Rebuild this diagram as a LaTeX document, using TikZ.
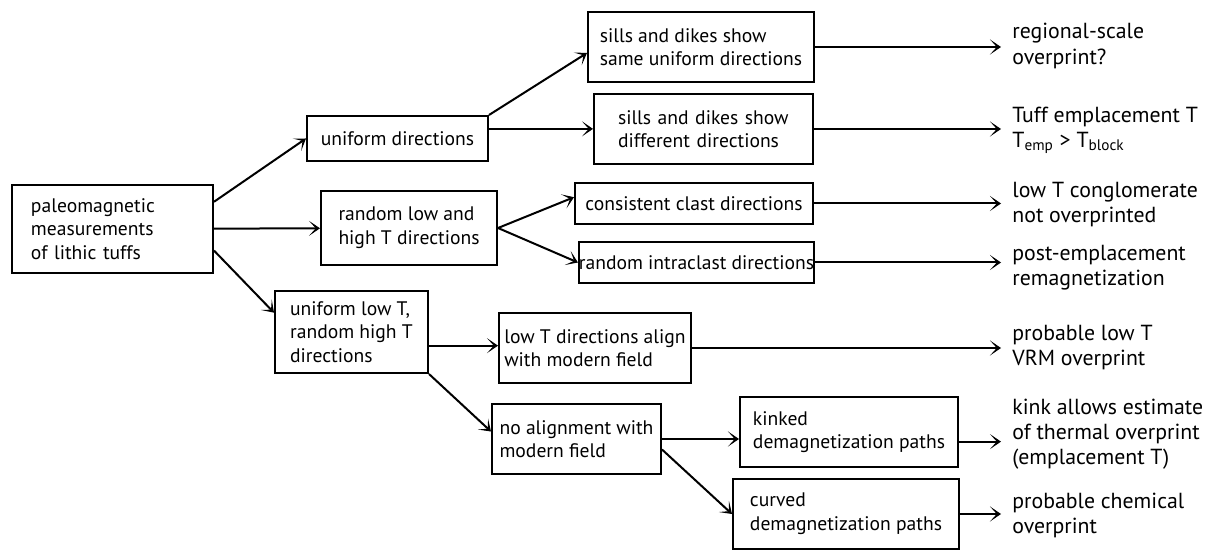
\documentclass[tikz,border=0pt]{standalone}
\usepackage{fontspec}
\setmainfont{PT Sans}
\usepackage{tikz}
\usetikzlibrary{arrows.meta}

\begin{document}
\begin{tikzpicture}[
  x=0.5pt, y=-0.5pt,
  blk/.style 2 args = {draw, line width=1pt, inner sep=0pt,
                       minimum width=#1, minimum height=#2,
                       align=left, font=\fontsize{9.8}{11.8}\selectfont},
  res/.style = {anchor=west, inner xsep=5.5pt, inner ysep=0pt,
                align=left, font=\fontsize{10.9}{12.6}\selectfont},
  arr/.style = {-{Stealth[length=5.5pt, width=7.5pt, inset=3.4pt]},
                line width=1pt},
]
\useasboundingbox (0,0) rectangle (1217,550);

%% starting point
\node[blk={100.5pt}{44pt}, text width=81.5pt] (meas) at (112.5,229)
  {paleomagnetic\\measurements\\of lithic tuffs};

%% first split
\node[blk={90.5pt}{22.5pt}] (unif) at (397.5,138.5) {uniform directions};
\node[blk={88pt}{37pt}]     (rand) at (409,228) {random low and\\high T directions};
\node[blk={76.5pt}{41pt}]   (lowT) at (351.5,332) {uniform low T,\\random high T\\directions};

%% second split
\node[blk={113pt}{35pt}]  (same)  at (701,47) {sills and dikes show\\same uniform directions};
\node[blk={109.5pt}{35pt}, text width=85.5pt] (diff) at (703.5,129)
  {sills and dikes show\\different directions};
\node[blk={119pt}{20.5pt}]  (cons)  at (694,203.5) {consistent clast directions};
\node[blk={116.5pt}{20.5pt}] (intra) at (696.5,262.5) {random intraclast directions};
\node[blk={96pt}{35pt}]     (align) at (595,348) {low T directions align\\with modern field};
\node[blk={84.5pt}{35pt}]   (noal)  at (576.5,439) {no alignment with\\modern field};

%% demagnetization paths
\node[blk={109pt}{35pt}] (kink) at (849,432) {kinked\\demagnetization paths};
\node[blk={113pt}{35pt}] (curv) at (846,514) {curved\\demagnetization paths};

%% interpretations
\node[res] (regl) at (1001,46)    {regional-scale\\overprint?};
\node[res] (empl) at (1001,130.5) {Tuff emplacement T\\T\textsubscript{emp} > T\textsubscript{block}};
\node[res] (cong) at (1001,204.5) {low T conglomerate\\not overprinted};
\node[res] (post) at (1001,268)   {post-emplacement\\remagnetization};
\node[res] (vrm)  at (1001,347.5) {probable low T\\VRM overprint};
\node[res] (therm) at (1001,434)  {kink allows estimate\\of thermal overprint\\(emplacement T)};
\node[res] (chem) at (1001,515.5) {probable chemical\\overprint};

%% connectors
\draw[arr] (meas.15) -- (unif.west);
\draw[arr] (meas) -- (rand);
\draw[arr] (meas.348) -- (lowT.166);
\draw[arr] (unif.north east) -- (same.183);
\draw[arr] (unif.6) -- (unif.6 -| diff.west);
\draw[arr] (rand.east) -- (cons.177);
\draw[arr] (rand.east) -- (intra.west);
\draw[arr] (lowT.350) -- (lowT.350 -| align.west);
\draw[arr] (lowT.south east) -- (noal.175);
\draw[arr] (noal.east) -- (noal.east -| kink.west);
\draw[arr] (noal.353) -- (curv.west);

%% to the interpretations
\draw[arr] (same.east)  -- (same.east -| regl.west);
\draw[arr] (diff.east)  -- (diff.east -| empl.west);
\draw[arr] (cons.east)  -- (cons.east -| cong.west);
\draw[arr] (intra.east) -- (intra.east -| post.west);
\draw[arr] (align.east) -- (align.east -| vrm.west);
\draw[arr] (kink.355)   -- (kink.355 -| therm.west);
\draw[arr] (curv.east)  -- (curv.east -| chem.west);

\end{tikzpicture}
\end{document}
